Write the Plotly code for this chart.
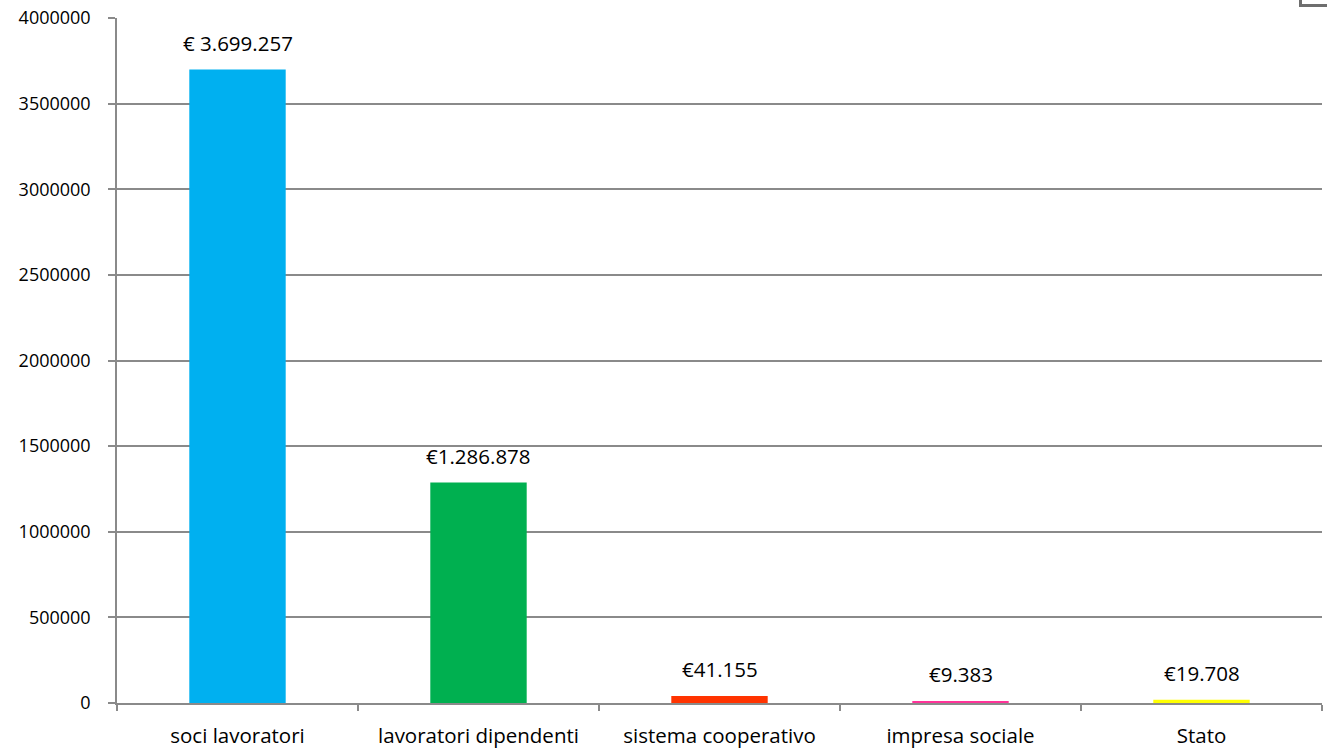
import plotly.graph_objects as go

categories = ["soci lavoratori", "lavoratori dipendenti", "sistema cooperativo", "impresa sociale", "Stato"]
values = [3699257, 1286878, 41155, 9383, 19708]
value_labels = ["€ 3.699.257", "€1.286.878", "€41.155", "€9.383", "€19.708"]
bar_colors = ["#00B0F0", "#00B050", "#FF3300", "#FF3399", "#FFFF00"]
y_ticks = [0, 500000, 1000000, 1500000, 2000000, 2500000, 3000000, 3500000, 4000000]

FONT = "Open Sans, Calibri, Carlito, sans-serif"
GRID = "#8a8a8a"

fig = go.Figure(
    go.Bar(
        x=categories,
        y=values,
        marker=dict(color=bar_colors, line=dict(width=0)),
        width=0.4,
        hoverinfo="x+y",
    )
)

for cat, val, lab in zip(categories, values, value_labels):
    fig.add_annotation(
        x=cat, y=val, text=lab, showarrow=False,
        yanchor="bottom", yshift=11,
        font=dict(family=FONT, size=20.5, color="#000000"),
    )

# small frame corner visible at the top right
fig.add_shape(
    type="rect", xref="paper", yref="paper",
    x0=(1300.5 - 117) / 1205, x1=1.2, y0=(703 - 5.5) / 685, y1=1.2,
    line=dict(color="#6e6e6e", width=3), layer="above",
)

fig.update_layout(
    template="none",
    width=1327, height=749,
    margin=dict(l=117, r=5, t=18, b=46, autoexpand=False),
    paper_bgcolor="white", plot_bgcolor="white",
    showlegend=False,
    font=dict(family=FONT, size=20, color="#000000"),
    bargap=0.6,
)
fig.update_xaxes(
    type="category", automargin=False,
    showline=True, linecolor=GRID, linewidth=1.5,
    ticks="outside", tickson="boundaries", ticklen=6, tickcolor=GRID, tickwidth=1.5,
    ticklabelstandoff=14,
    tickfont=dict(family=FONT, size=20.5),
    showgrid=False, zeroline=False,
)
fig.update_yaxes(
    automargin=False,
    range=[0, 4000000], tickvals=y_ticks, ticktext=[str(v) for v in y_ticks],
    showline=True, linecolor=GRID, linewidth=1.5,
    ticks="outside", ticklen=7, tickcolor=GRID, tickwidth=1.5,
    ticklabelstandoff=14,
    showgrid=True, gridcolor=GRID, gridwidth=1.5,
    zeroline=False,
    tickfont=dict(family=FONT, size=18),
)

fig.write_html("out.html")
